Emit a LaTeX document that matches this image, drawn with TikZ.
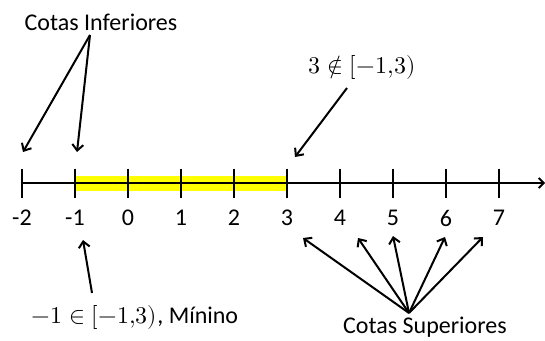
\documentclass[tikz,border=0pt]{standalone}
\usepackage{fontspec}
\usepackage{unicode-math}
\setmainfont{Carlito}
\setmathfont{Latin Modern Math}
\usepackage{xcolor}
\usetikzlibrary{arrows.meta, math}
\definecolor{myyellow}{RGB}{255, 255, 0}

\tikzset{
  lbl/.style={font=\fontsize{24}{28}\selectfont, inner sep=0pt},
  pointer/.style={-{Straight Barb[length=6pt,width=11pt]}, line width=2pt},
}

\begin{document}
\begin{tikzpicture}[x=1pt,y=-1pt]
\tikzmath{
\xo=22;
\dx=53;
\ya=183;
\tk=14.5;
}
\useasboundingbox (0,0) rectangle (545,340);

% interval [-1,3)
\fill[myyellow] (\xo+\dx,176) rectangle (\xo+5*\dx,191);
\draw[line width=1.8pt, -{Straight Barb[length=5pt,width=10pt]}] (\xo,\ya) -- (545,\ya);
\foreach \i [count=\k from 0] in {-2,...,7}{
  \draw[line width=2.2pt] (\xo+\k*\dx,\ya-\tk) -- (\xo+\k*\dx,\ya+\tk);
  \node[lbl] (n\k) at (\xo+\k*\dx,218) {\i};
}

% labels
\node[lbl] (inf) at (101,22) {Cotas Inferiores};
\node[lbl] (out) at (362,67) {$3\notin[-1{,}3)$};
\node[lbl] (min) at (135,317) {$-1\in[-1{,}3)$, Mínino};
\node[lbl] (sup) at (425,327) {Cotas Superiores};

\coordinate (infP) at (90,35);
\coordinate (supP) at (409,313);
\coordinate (outP) at (347,88);
\coordinate (minP) at (92,293);
\coordinate (i1) at (23,152);
\coordinate (i2) at (77,152);
\coordinate (o1) at (295,157);
\coordinate (m1) at (83,240);
\coordinate (s1) at (303,238);
\coordinate (s2) at (358,238);
\coordinate (s3) at (393,236);
\coordinate (s4) at (445,237);
\coordinate (s5) at (483,237);

\draw[pointer] (infP) -- (i1);
\draw[pointer] (infP) -- (i2);
\draw[pointer] (outP) -- (o1);
\draw[pointer] (minP) -- (m1);
\foreach \s in {s1,s2,s3,s4,s5}
  \draw[pointer] (supP) -- (\s);
\end{tikzpicture}
\end{document}
